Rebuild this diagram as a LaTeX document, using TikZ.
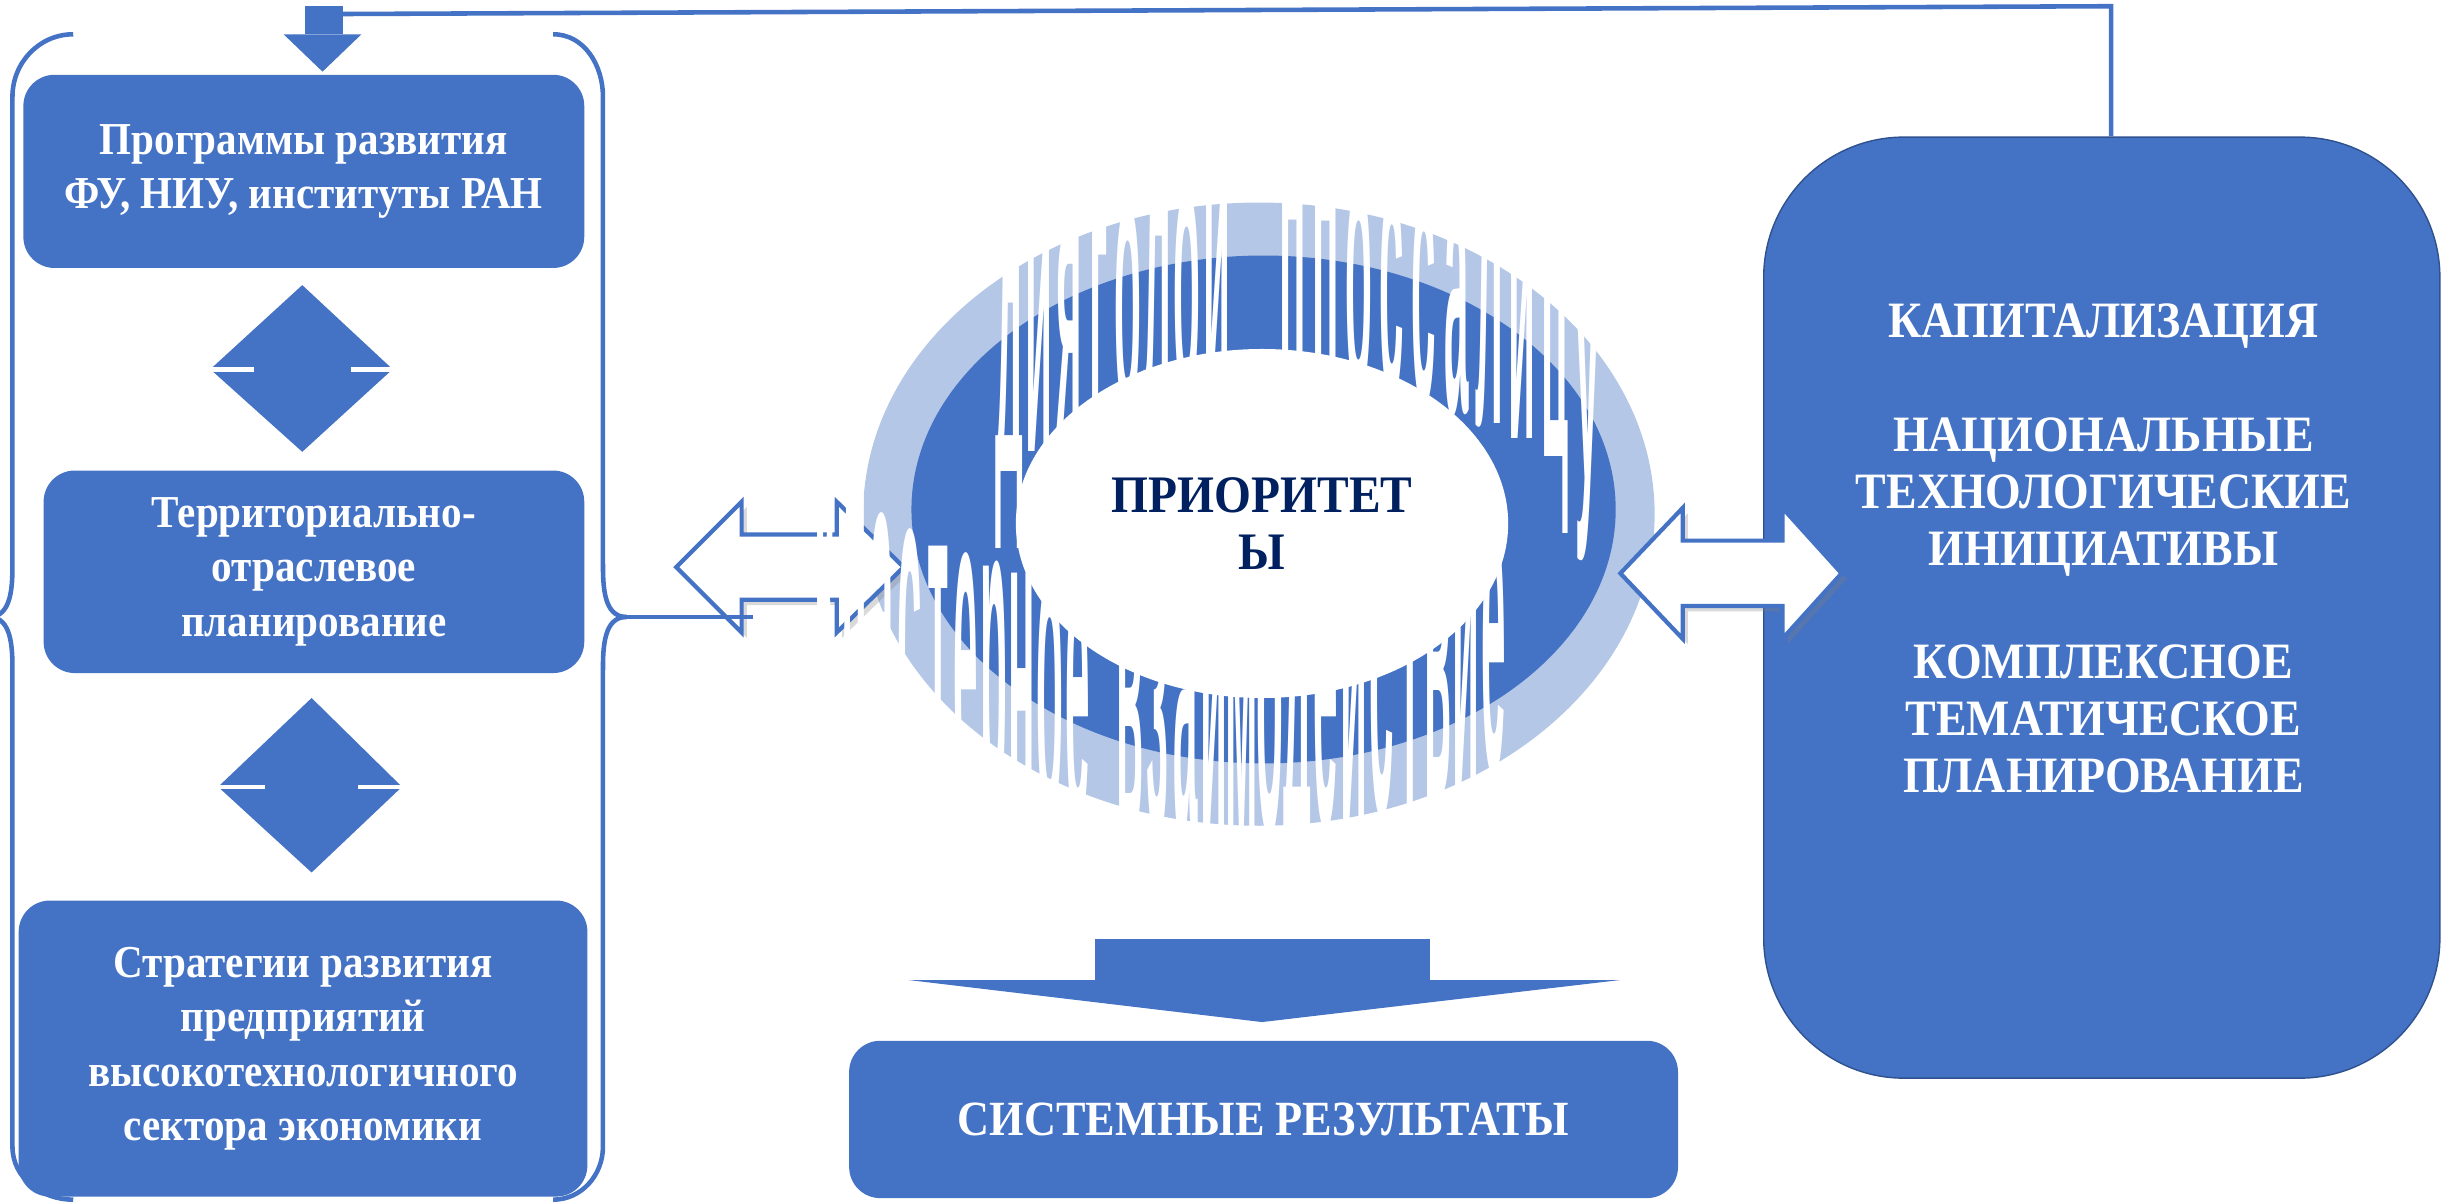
\documentclass[tikz,border=0pt]{standalone}
\usepackage{fontspec}
\setmainfont{Liberation Serif}[FakeStretch=0.9]
\newfontfamily\wafont{Liberation Sans}
\usetikzlibrary{positioning,shadows}
\definecolor{boxblue}{HTML}{4472C4}
\definecolor{ringblue}{HTML}{B4C7E7}
\definecolor{edgeblue}{HTML}{2F528F}
\definecolor{navy}{HTML}{002060}
\newcommand\un{0.01558cm}
% one arched word: letters, x start, x step, cx, cy, a, b, prefix, y scale
\newcommand\wordline[9]{%
\foreach \ch [count=\i from 0] in {#1}{
  \pgfmathsetmacro\xx{#2+\i*#3}
  \pgfmathsetmacro\yy{#5+#7*sqrt(max(0,1-((\xx-#4)/#6)^2))+5.85*#9}
  \node[waletter] (#8\i) at (\xx,\yy) {\scalebox{1.25}[#9]{\ch}};
}}
\tikzset{
  lbox/.style={fill=boxblue, rounded corners=20*\un, inner sep=0pt, align=center,
    text=white, font=\fontsize{13}{15.5}\selectfont\bfseries},
  capsbox/.style={align=center, text=white, font=\fontsize{14.5}{16.2}\selectfont\bfseries},
  brace/.style={draw=boxblue, line width=1.3pt},
  conn/.style={draw=boxblue, line width=1.3pt},
  dblarr/.style={draw=boxblue, fill=white, line width=1.2pt, line join=miter,
    drop shadow={shadow xshift=1.5pt, shadow yshift=-1.5pt, opacity=0.3}},
  waletter/.style={inner sep=0pt, anchor=base, text=white,
    font=\wafont\bfseries\fontsize{10}{10}\selectfont}
}
\begin{document}
\begin{tikzpicture}[x=\un, y=-\un]
\useasboundingbox (0,0) rectangle (1568,771.5);

% left column
\node[lbox, minimum width=360*\un, minimum height=124*\un] (prog) at (195,110)
  {Программы развития\\ФУ, НИУ, институты РАН};
\node[lbox, minimum width=347*\un, minimum height=130*\un] (terr) at (201.5,367)
  {Территориально-\\отраслевое\\планирование};
\node[lbox, minimum width=365*\un, minimum height=190*\un] (strat) at (194.5,673)
  {Стратегии развития\\предприятий\\высокотехнологичного\\сектора экономики};

% diamonds between the boxes
\fill[boxblue] (194,183) -- (252,237) -- (194,290) -- (135,237) -- cycle;
\draw[white, line width=1.3pt] (135,237) -- (163,237) (225,237) -- (252,237);
\fill[boxblue] (200,448) -- (258,505) -- (200,560) -- (140,505) -- cycle;
\draw[white, line width=1.3pt] (140,505) -- (170,505) (230,505) -- (258,505);

% braces
\draw[brace] (47,22) to[out=180,in=90] (8,62) -- (8,362) to[out=-90,in=0] (-7,396);
\draw[brace] (-7,396) to[out=0,in=90] (8,430) -- (8,736) to[out=-90,in=180] (47,770);
\draw[brace] (355,22) to[out=0,in=90] (387,62) -- (387,362) to[out=-90,in=180] (402,396);
\draw[brace] (402,396) to[out=180,in=90] (387,430) -- (387,736) to[out=-90,in=0] (355,770);

% feedback arrow on top
\fill[boxblue] (196,4) rectangle (220,22);
\fill[boxblue] (182,22) -- (232,22) -- (207,46) -- cycle;
\coordinate (fbin) at (220,9);
\coordinate (fbturn) at (1355,4);

% right box
\node[fill=boxblue, draw=edgeblue, rounded corners=90*\un, minimum width=434*\un,
  minimum height=604*\un] (kap) at (1349,390) {};
\node[capsbox] (kaptxt) at (1350,352)
  {КАПИТАЛИЗАЦИЯ\\[16.2pt]НАЦИОНАЛЬНЫЕ\\ТЕХНОЛОГИЧЕСКИЕ\\ИНИЦИАТИВЫ\\[16.2pt]КОМПЛЕКСНОЕ\\ТЕМАТИЧЕСКОЕ\\ПЛАНИРОВАНИЕ};
\draw[conn] (fbin) -- (fbturn) -- (fbturn |- kap.north);

% ring
\fill[ringblue] (808,330) ellipse [x radius=254, y radius=200];
\fill[boxblue] (811,327) ellipse [x radius=226, y radius=163];
\fill[white] (810,336) ellipse [x radius=158, y radius=112];

% left double arrow
\draw[dblarr] (434,364) -- (476,322) -- (476,343) -- (537,343) -- (537,322) -- (580,364)
  -- (537,406) -- (537,385) -- (476,385) -- (476,406) -- cycle;
\coordinate (bnotch) at (402,396);
\coordinate (larrin) at (483,396);
\draw[conn] (bnotch) -- (larrin);

% arched words
\wordline{д,и,я,г,о,л,о,й}{648}{19}{830}{330}{235}{-145}{wt}{11}
\wordline{п,п,о,с,с,а,л,и,ц,у}{830}{21}{830}{330}{235}{-145}{wu}{11}
\wordline{к,л,а,с,т,е,р,н,о,е}{530}{18}{770}{330}{260}{130}{wa}{13}
\wordline{в,з,а,и,м,о,д,е,й,с,т,в,и,е}{725}{18}{770}{330}{260}{130}{wb}{13}

\node[text=navy, align=center, font=\fontsize{15}{16.4}\selectfont\bfseries] (prio) at (810,336)
  {ПРИОРИТЕТ\\Ы};

% right double arrow
\draw[dblarr] (1040,368) -- (1080,326) -- (1080,347) -- (1144,347) -- (1144,326) -- (1182,368)
  -- (1144,410) -- (1144,389) -- (1080,389) -- (1080,410) -- cycle;

% result arrow and box
\fill[boxblue] (703,603) rectangle (918,629);
\fill[boxblue] (583,629) -- (1040,629) -- (810,656) -- cycle;
\node[lbox, font=\fontsize{14}{16}\selectfont\bfseries, minimum width=532*\un,
  minimum height=101*\un] (res) at (811,718.5) {СИСТЕМНЫЕ РЕЗУЛЬТАТЫ};
\end{tikzpicture}
\end{document}
